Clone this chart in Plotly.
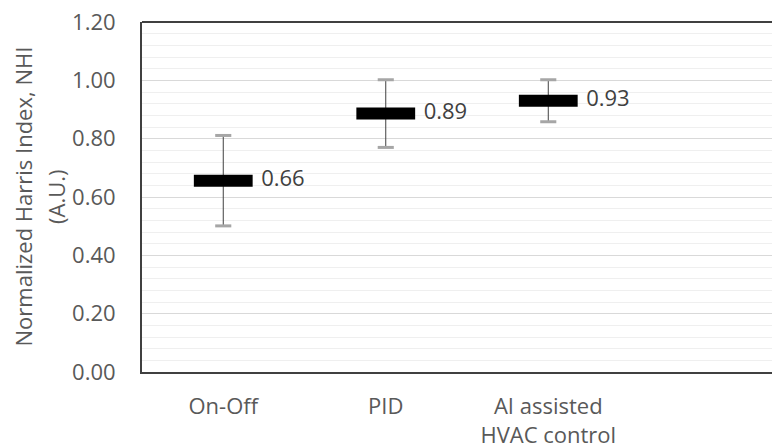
import plotly.graph_objects as go

categories = ["On-Off", "PID", "AI assisted<br>HVAC control"]
nhi_mean = [0.656, 0.886, 0.93]
nhi_err = [0.155, 0.116, 0.072]
y_ticks = [0.0, 0.2, 0.4, 0.6, 0.8, 1.0, 1.2]

FONT = "Open Sans"
TXT = "#595959"
AXIS = "#404040"

upper = [m + e for m, e in zip(nhi_mean, nhi_err)]
lower = [m - e for m, e in zip(nhi_mean, nhi_err)]

fig = go.Figure()

# vertical error lines
fig.add_trace(go.Scatter(
    x=categories, y=nhi_mean, mode="markers",
    marker=dict(size=1, color="rgba(0,0,0,0)"),
    error_y=dict(type="data", array=nhi_err, symmetric=True,
                 color="#404040", thickness=1, width=0),
    hoverinfo="skip", showlegend=False))

# grey caps
fig.add_trace(go.Scatter(
    x=categories + categories, y=upper + lower, mode="markers",
    marker=dict(symbol="line-ew", size=11.5, color="#a6a6a6",
                line=dict(width=3, color="#a6a6a6")),
    hoverinfo="skip", showlegend=False))

# mean markers
fig.add_trace(go.Scatter(
    x=categories, y=nhi_mean, mode="markers",
    marker=dict(symbol="line-ew", size=42, color="black",
                line=dict(width=12, color="black")),
    showlegend=False))

# value labels
fig.add_trace(go.Scatter(
    x=categories, y=nhi_mean, mode="markers+text",
    marker=dict(size=59, color="rgba(0,0,0,0)"),
    text=[f"{v:.2f}" for v in nhi_mean],
    textposition="middle right",
    textfont=dict(family=FONT, size=22, color=AXIS),
    hoverinfo="skip", showlegend=False))

# page body adds an 8px offset; figure sized to end at the window edge
W, H = 772, 439
L = 134

fig.update_layout(
    width=W, height=H,
    margin=dict(l=L, r=0, t=14, b=75),
    paper_bgcolor="white", plot_bgcolor="white",
    font=dict(family=FONT, size=22, color=TXT),
    showlegend=False,
    xaxis=dict(
        type="category", categoryarray=categories,
        range=[-0.5, 3.426], automargin=False, ticklabeloverflow="allow",
        showline=True, linecolor=AXIS, linewidth=2,
        showgrid=False, ticks="", ticklabelstandoff=14,
        tickfont=dict(family=FONT, size=22, color=TXT),
        zeroline=False, fixedrange=True),
    yaxis=dict(
        range=[0, 1.2], tickvals=y_ticks, automargin=False,
        ticklabeloverflow="allow",
        ticktext=[f"{v:.2f}" for v in y_ticks],
        showline=True, linecolor=AXIS, linewidth=2,
        showgrid=True, gridcolor="#d9d9d9", gridwidth=1,
        minor=dict(dtick=0.04, showgrid=True, gridcolor="#efefef", gridwidth=1),
        ticks="", ticklabelstandoff=20,
        tickfont=dict(family=FONT, size=22, color=TXT),
        zeroline=False, fixedrange=True),
    shapes=[dict(type="line", xref="paper", yref="paper", x0=0, x1=1, y0=1, y1=1,
                 line=dict(color=AXIS, width=2))],
    annotations=[
        dict(text="Normalized Harris Index, NHI", textangle=-90,
             xref="paper", yref="paper", x=(14.5 - L) / (W - L), y=0.5,
             xanchor="center", yanchor="middle", showarrow=False,
             font=dict(family=FONT, size=22, color=TXT)),
        dict(text="(A.U.)", textangle=-90,
             xref="paper", yref="paper", x=(48 - L) / (W - L), y=0.5,
             xanchor="center", yanchor="middle", showarrow=False,
             font=dict(family=FONT, size=22, color=TXT)),
    ],
)

fig.write_html("out.html")
